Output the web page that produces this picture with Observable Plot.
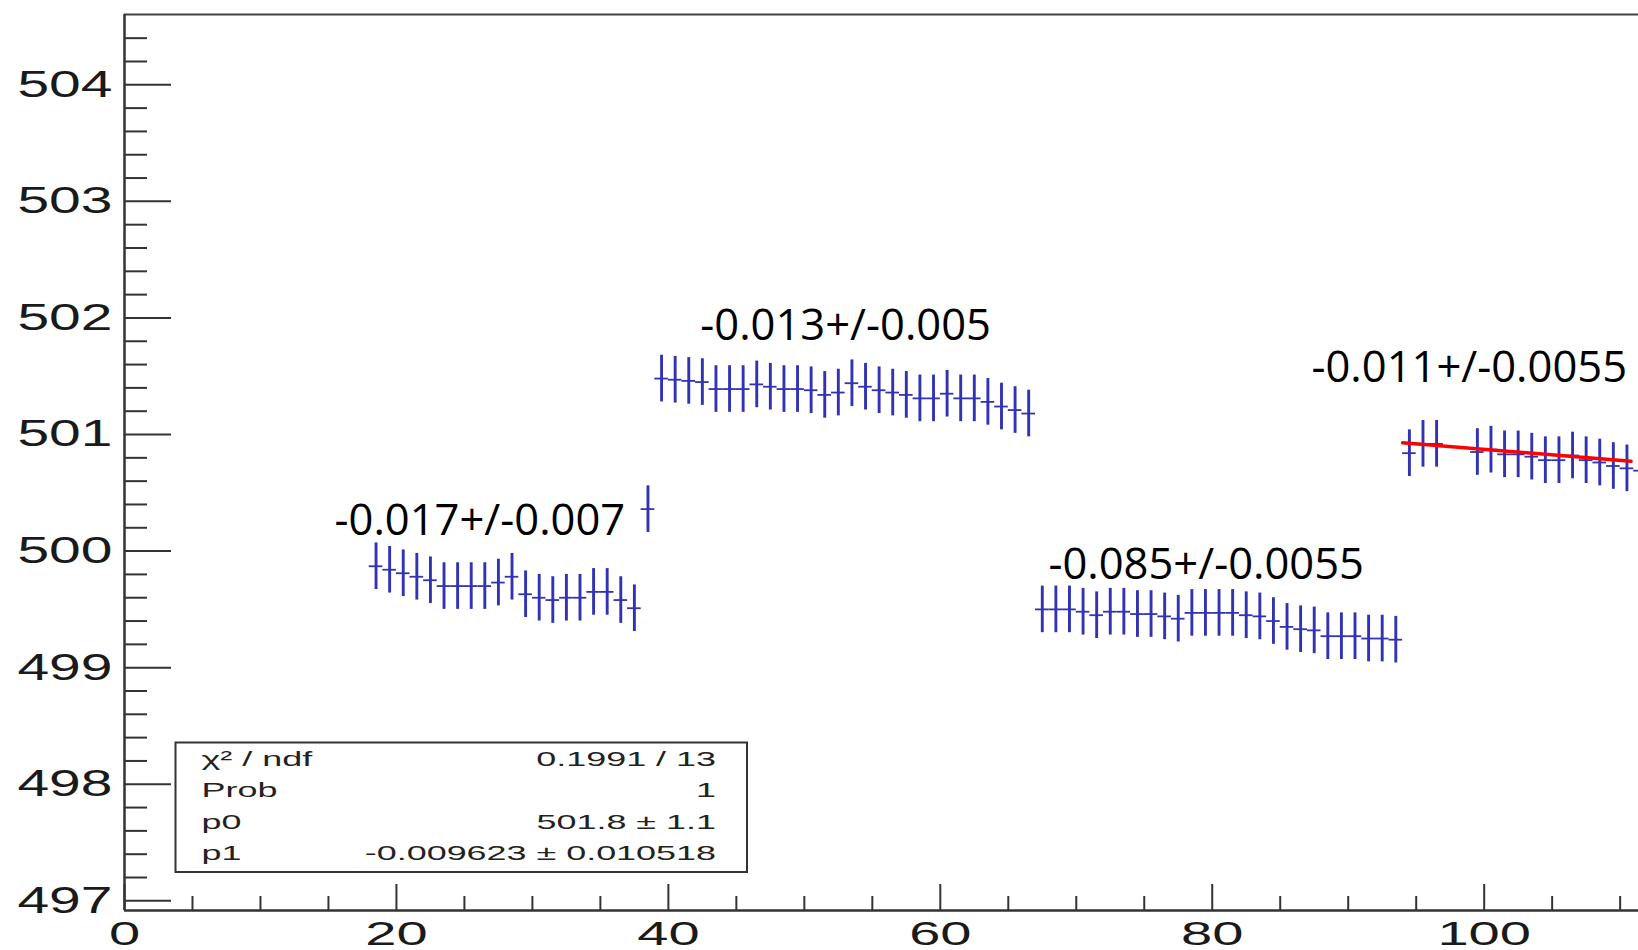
<!DOCTYPE html>
<html><head><meta charset="utf-8">
<script src="https://cdn.jsdelivr.net/npm/d3@7"></script>
<script src="https://cdn.jsdelivr.net/npm/@observablehq/plot@0.6"></script>
<style>
html,body{margin:0;padding:0;background:#fff;overflow:hidden;}
</style></head><body><div id="chart"></div>
<script>
// ---- data ----
const binsA = [18.5,19.5,20.5,21.5,22.5,23.5,24.5,25.5,26.5,27.5,28.5,29.5,30.5,31.5,32.5,33.5,34.5,35.5,36.5,37.5];
const valsA = [499.87,499.84,499.81,499.78,499.75,499.70,499.70,499.70,499.70,499.73,499.78,499.63,499.60,499.58,499.60,499.60,499.65,499.65,499.58,499.51];
const binsIso = [38.5];
const valsIso = [500.36];
const binsB = [39.5,40.5,41.5,42.5,43.5,44.5,45.5,46.5,47.5,48.5,49.5,50.5,51.5,52.5,53.5,54.5,55.5,56.5,57.5,58.5,59.5,60.5,61.5,62.5,63.5,64.5,65.5,66.5];
const valsB = [501.48,501.47,501.46,501.45,501.39,501.39,501.39,501.43,501.41,501.39,501.39,501.38,501.34,501.36,501.44,501.41,501.38,501.36,501.34,501.31,501.31,501.35,501.31,501.31,501.28,501.24,501.21,501.18];
const binsC = [67.5,68.5,69.5,70.5,71.5,72.5,73.5,74.5,75.5,76.5,77.5,78.5,79.5,80.5,81.5,82.5,83.5,84.5,85.5,86.5,87.5,88.5,89.5,90.5,91.5,92.5,93.5];
const valsC = [499.50,499.50,499.50,499.48,499.45,499.48,499.48,499.46,499.46,499.44,499.42,499.47,499.47,499.47,499.47,499.45,499.44,499.40,499.35,499.33,499.32,499.27,499.27,499.27,499.25,499.25,499.24];
const binsD = [94.5,95.5,96.5,99.5,100.5,101.5,102.5,103.5,104.5,105.5,106.5,107.5,108.5,109.5,110.5,111.5];
const valsD = [500.84,500.92,500.92,500.85,500.87,500.83,500.83,500.81,500.78,500.78,500.82,500.78,500.76,500.73,500.71,500.69];
const errY = 0.2;      // vertical error
const halfBin = 0.5;   // horizontal error (half bin width)

const fitX = [94, 110.8];
const fitY = [500.93, 500.77];

const slopeLabels = ["-0.017+/-0.007", "-0.013+/-0.005", "-0.085+/-0.0055", "-0.011+/-0.0055"];
const slopeLabelX = [15.45, 42.35, 67.95, 87.3];
const slopeLabelY = [500.26, 501.93, 499.88, 501.566];

const statNames = ["χ² / ndf", "Prob", "p0", "p1"];
const statValues = ["0.1991 / 13", "1", "501.8 ± 1.1", "-0.009623 ± 0.010518"];

const xMajorTicks = [0, 20, 40, 60, 80, 100];
const yMajorTicks = [497, 498, 499, 500, 501, 502, 503, 504];
const xDomain = [0, 111.35];
const yDomain = [496.917, 504.603];

// ---- build ----
const points = [
  ...binsA.map((x, i) => ({x, y: valsA[i]})),
  ...binsIso.map((x, i) => ({x, y: valsIso[i]})),
  ...binsB.map((x, i) => ({x, y: valsB[i]})),
  ...binsC.map((x, i) => ({x, y: valsC[i]})),
  ...binsD.map((x, i) => ({x, y: valsD[i]}))
];
const fit = fitX.map((x, i) => ({x, y: fitY[i]}));
const xMinorTicks = d3.range(5, 115, 5).filter(v => v % 20 !== 0);
const yMinorTicks = d3.range(4970, 5046, 2).map(v => v / 10).filter(v => v % 1 !== 0 && v > yDomain[0] && v < yDomain[1]);

const W = 1638, H = 950, ML = 124, MR = 0, MT = 14, MB = 40;
const FW = W - ML - MR, FH = H - MT - MB;
const blue = "#3232b4";
const axisColor = "#333";

function statsBox(index, scales, values, dims) {
  const g = d3.create("svg:g").attr("class", "stats");
  const left = dims.marginLeft + 51.5, top = dims.marginTop + 728.5, w = 571.5, h = 129.5;
  g.append("rect").attr("x", left).attr("y", top).attr("width", w).attr("height", h)
    .attr("fill", "white").attr("stroke", "#333").attr("stroke-width", 2);
  statNames.forEach((n, i) => {
    const yb = top + 23.5 + i * 31.3;
    g.append("text").attr("x", left + 26).attr("y", yb).attr("font-size", 21).attr("fill", "#222")
      .attr("text-anchor", "start").text(n);
    g.append("text").attr("x", left + w - 31).attr("y", yb).attr("font-size", 21).attr("fill", "#222")
      .attr("text-anchor", "end").text(statValues[i]);
  });
  return g.node();
}

const svg = Plot.plot({
  width: W, height: H,
  marginLeft: ML, marginRight: MR, marginTop: MT, marginBottom: MB,
  style: {fontFamily: "Liberation Sans, Arial, sans-serif", background: "white", color: "#1a1a1a"},
  x: {domain: xDomain},
  y: {domain: yDomain},
  marks: [
    // frame lines
    Plot.ruleY([yDomain[1]], {stroke: "#444", strokeWidth: 2}),
    Plot.ruleY([yDomain[0]], {stroke: axisColor, strokeWidth: 2.5}),
    Plot.ruleX([xDomain[0]], {stroke: axisColor, strokeWidth: 2.5}),
    // ticks
    Plot.tickY(yMajorTicks, {y: d => d, stroke: axisColor, strokeWidth: 2, insetRight: FW - 47}),
    Plot.tickY(yMinorTicks, {y: d => d, stroke: axisColor, strokeWidth: 2, insetRight: FW - 23}),
    Plot.tickX(xMajorTicks, {x: d => d, stroke: axisColor, strokeWidth: 2, insetTop: FH - 26}),
    Plot.tickX(xMinorTicks, {x: d => d, stroke: axisColor, strokeWidth: 2, insetTop: FH - 14}),
    Plot.axisY({ticks: yMajorTicks, tickSize: 0, tickPadding: 12, fontSize: 37, label: null, tickFormat: d => String(d)}),
    Plot.axisX({ticks: xMajorTicks, tickSize: 0, tickPadding: 11, fontSize: 33, label: null, tickFormat: d => String(d)}),
    // data
    Plot.ruleX(points, {x: "x", y1: d => d.y - errY, y2: d => d.y + errY, stroke: blue, strokeWidth: 2.9, clip: true}),
    Plot.ruleY(points, {y: "y", x1: d => d.x - halfBin, x2: d => d.x + halfBin, stroke: blue, strokeWidth: 1.8, clip: true}),
    Plot.line(fit, {x: "x", y: "y", stroke: "#ff0000", strokeWidth: 3.5}),
    Plot.text(slopeLabels, {x: (d, i) => slopeLabelX[i], y: (d, i) => slopeLabelY[i], text: d => d,
      textAnchor: "start", lineAnchor: "middle", fontSize: 43.5, fontFamily: "Open Sans", fill: "#000"}),
    statsBox
  ]
});
document.getElementById("chart").append(svg);

function stretch(sel, f) {
  svg.querySelectorAll(sel).forEach(t => {
    const L = t.getComputedTextLength();
    t.setAttribute("textLength", (L * f).toFixed(1));
    t.setAttribute("lengthAdjust", "spacingAndGlyphs");
  });
}
stretch('[aria-label="y-axis tick label"] text', 1.54);
stretch('[aria-label="x-axis tick label"] text', 1.7);
stretch('g.stats text', 1.71);
</script></body></html>
